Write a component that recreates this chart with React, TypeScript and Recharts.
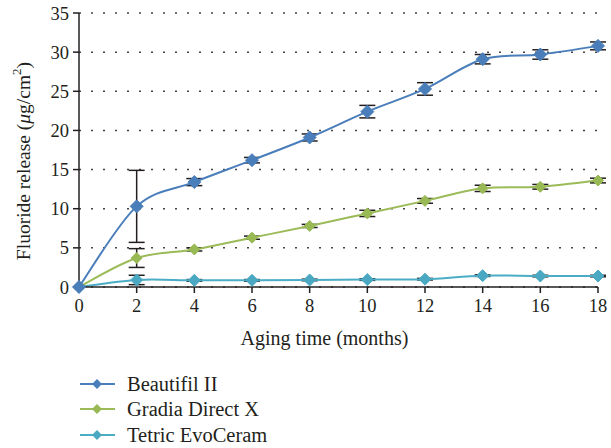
import React from "react";
import { LineChart, Line, XAxis, YAxis, CartesianGrid, ErrorBar, Legend } from "recharts";

const months = [0, 2, 4, 6, 8, 10, 12, 14, 16, 18];
const beautifil = [0, 10.3, 13.4, 16.2, 19.1, 22.4, 25.3, 29.1, 29.7, 30.8];
const beautifilErr = [0, 4.6, 0.45, 0.35, 0.45, 0.8, 0.8, 0.6, 0.6, 0.5];
const gradia = [0, 3.7, 4.8, 6.3, 7.8, 9.4, 11.0, 12.6, 12.8, 13.6];
const gradiaErr = [0, 1.2, 0.2, 0.2, 0.2, 0.4, 0.3, 0.4, 0.3, 0.3];
const tetric = [0, 0.9, 0.85, 0.85, 0.9, 0.95, 1.0, 1.45, 1.4, 1.4];
const tetricErr = [0, 0.6, 0.1, 0.1, 0.1, 0.1, 0.1, 0.1, 0.1, 0.1];
const xTicks = [0, 2, 4, 6, 8, 10, 12, 14, 16, 18];
const yTicks = [0, 5, 10, 15, 20, 25, 30, 35];

const seriesNames = ["Beautifil II", "Gradia Direct X", "Tetric EvoCeram"];
const lineColors = ["#4a7ebb", "#9bbb59", "#4bacc6"];
const markerColors = ["#4a7ebb", "#98b954", "#4aa8c2"];

const data = months.map((m, i) => ({
  month: m,
  b: beautifil[i],
  bErr: beautifilErr[i],
  g: gradia[i],
  gErr: gradiaErr[i],
  t: tetric[i],
  tErr: tetricErr[i],
}));

const FONT = "'Liberation Serif', 'Times New Roman', serif";
const TEXT = "#231f20";

function excelCurve(context: any) {
  let pts: number[][] = [];
  return {
    areaStart() {},
    areaEnd() {},
    lineStart() {
      pts = [];
    },
    point(x: number, y: number) {
      pts.push([+x, +y]);
    },
    lineEnd() {
      if (!pts.length) return;
      context.moveTo(pts[0][0], pts[0][1]);
      for (let i = 0; i < pts.length - 1; i++) {
        const p0 = pts[i - 1] || pts[i];
        const p1 = pts[i];
        const p2 = pts[i + 1];
        const p3 = pts[i + 2] || p2;
        context.bezierCurveTo(
          p1[0] + (p2[0] - p0[0]) / 6,
          p1[1] + (p2[1] - p0[1]) / 6,
          p2[0] - (p3[0] - p1[0]) / 6,
          p2[1] - (p3[1] - p1[1]) / 6,
          p2[0],
          p2[1]
        );
      }
    },
  };
}

const makeDiamond = (color: string, r: number) => (props: any) => {
  const { cx, cy, index } = props;
  if (cx == null || cy == null) return <g key={index} />;
  return (
    <polygon
      key={index}
      points={`${cx},${cy - r} ${cx + r},${cy} ${cx},${cy + r} ${cx - r},${cy}`}
      fill={color}
      stroke={color}
      strokeWidth={1}
    />
  );
};

const YLabel = (props: any) => {
  const vb = props.viewBox || {};
  const cy = vb.y + vb.height / 2 + 11;
  const cx = 23;
  return (
    <text
      x={cx}
      y={cy}
      transform={`rotate(-90, ${cx}, ${cy})`}
      textAnchor="middle"
      dominantBaseline="central"
      fill={TEXT}
      fontFamily={FONT}
      fontSize={19.5}
    >
      <tspan>Fluoride release (</tspan>
      <tspan fontStyle="italic">μ</tspan>
      <tspan>g/cm</tspan>
      <tspan dy={-7} fontSize={13}>2</tspan>
      <tspan dy={7}>)</tspan>
    </text>
  );
};

const XLabel = (props: any) => {
  const vb = props.viewBox || {};
  const cx = vb.x + vb.width / 2 - 14;
  return (
    <text x={cx} y={345} textAnchor="middle" fill={TEXT} fontFamily={FONT} fontSize={20}>
      Aging time (months)
    </text>
  );
};

const LegendContent = () => (
  <div style={{ height: 77, fontFamily: FONT, fontSize: 20.5, color: TEXT }}>
    {seriesNames.map((n, i) => (
      <div key={n} style={{ height: 25.5, display: "flex", alignItems: "center" }}>
        <svg width={47} height={14} style={{ display: "block" }}>
          <line x1={0} y1={7} x2={35} y2={7} stroke={lineColors[i]} strokeWidth={2} />
          <polygon points={`17,${7 - 5} 22,7 17,${7 + 5} 12,7`} fill={markerColors[i]} />
        </svg>
        <span style={{ lineHeight: "20px" }}>{n}</span>
      </div>
    ))}
  </div>
);

export default function App() {
  return (
    <div style={{ position: "absolute", left: 0, top: 0, background: "#fff" }}>
      <LineChart width={611} height={448} data={data} margin={{ top: 13, right: 13, left: 0, bottom: 0 }}>
        <CartesianGrid vertical={false} stroke="#444" strokeDasharray="2 10" strokeWidth={1.5} />
        <XAxis
          dataKey="month"
          type="number"
          domain={[0, 18]}
          ticks={xTicks}
          height={84}
          tickSize={6}
          tickMargin={6}
          axisLine={{ stroke: "#231f20", strokeWidth: 1.5 }}
          tickLine={{ stroke: "#231f20", strokeWidth: 1.5 }}
          tick={{ fill: TEXT, fontFamily: FONT, fontSize: 18.5 }}
          label={<XLabel />}
        />
        <YAxis
          type="number"
          domain={[0, 35]}
          ticks={yTicks}
          width={79}
          tickSize={6}
          tickMargin={4}
          axisLine={{ stroke: "#231f20", strokeWidth: 1.5 }}
          tickLine={{ stroke: "#231f20", strokeWidth: 1.5 }}
          tick={{ fill: TEXT, fontFamily: FONT, fontSize: 18.5 }}
          label={<YLabel />}
        />
        <Legend
          verticalAlign="bottom"
          align="left"
          layout="horizontal"
          content={<LegendContent />}
          wrapperStyle={{ left: 80, top: 371, bottom: "auto", width: 300 }}
        />
        <Line
          dataKey="t"
          type={excelCurve as any}
          stroke={lineColors[2]}
          strokeWidth={2}
          dot={makeDiamond(markerColors[2], 6)}
          isAnimationActive={false}
        >
          <ErrorBar dataKey="tErr" width={8} stroke="#231f20" strokeWidth={1.5} direction="y" />
        </Line>
        <Line
          dataKey="g"
          type={excelCurve as any}
          stroke={lineColors[1]}
          strokeWidth={2}
          dot={makeDiamond(markerColors[1], 5.5)}
          isAnimationActive={false}
        >
          <ErrorBar dataKey="gErr" width={8} stroke="#231f20" strokeWidth={1.5} direction="y" />
        </Line>
        <Line
          dataKey="b"
          type={excelCurve as any}
          stroke={lineColors[0]}
          strokeWidth={2}
          dot={makeDiamond(markerColors[0], 6.5)}
          isAnimationActive={false}
        >
          <ErrorBar dataKey="bErr" width={8} stroke="#231f20" strokeWidth={1.5} direction="y" />
        </Line>
      </LineChart>
    </div>
  );
}
